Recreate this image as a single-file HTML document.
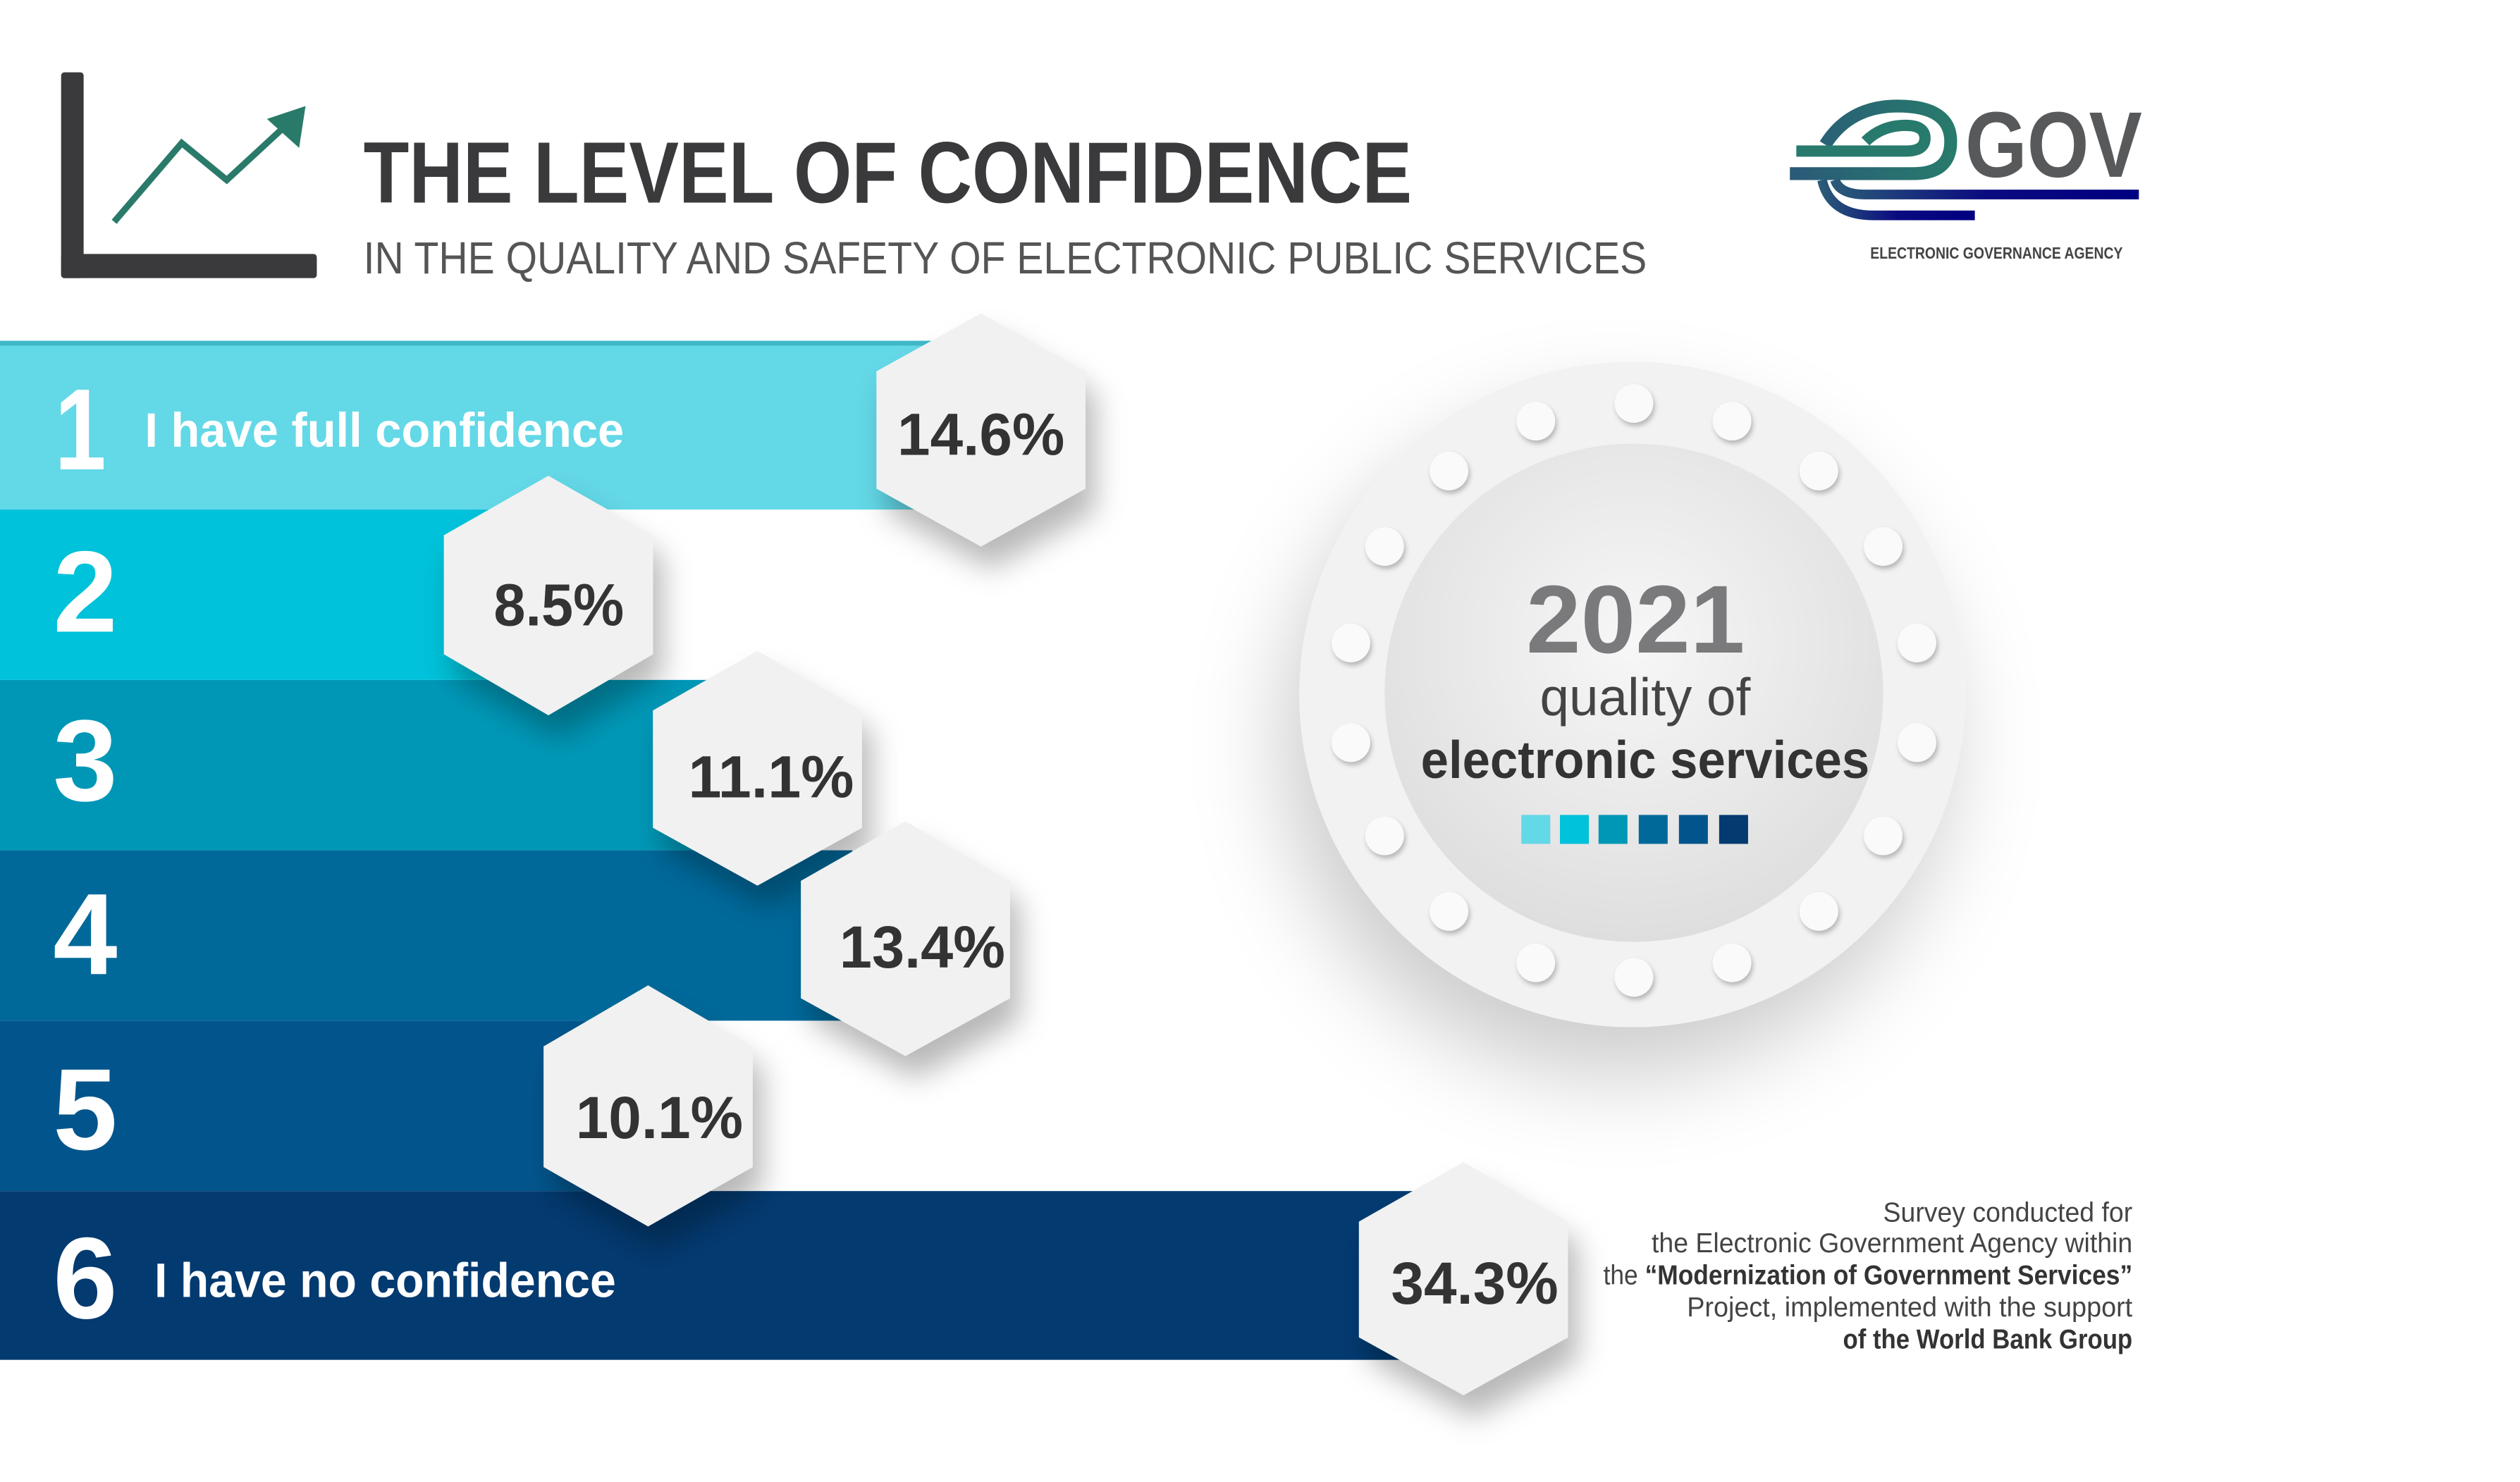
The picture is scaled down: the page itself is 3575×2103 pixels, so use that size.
<!DOCTYPE html>
<html><head><meta charset="utf-8"><style>
html,body{margin:0;padding:0;background:#fff;overflow:hidden}
svg{display:block}
text{font-family:"Liberation Sans",sans-serif}
</style></head><body>
<svg width="3575" height="2103" viewBox="0 0 1567 922" preserveAspectRatio="none" xmlns="http://www.w3.org/2000/svg">
<defs>
<filter id="sh" x="-50%" y="-50%" width="200%" height="220%"><feDropShadow dx="6" dy="14" stdDeviation="9" flood-color="#000" flood-opacity="0.28"/></filter>
<filter id="csh" x="-50%" y="-50%" width="200%" height="200%"><feDropShadow dx="-10" dy="30" stdDeviation="28" flood-color="#000" flood-opacity="0.2"/></filter>
<filter id="dsh"><feDropShadow dx="1" dy="2" stdDeviation="1.5" flood-color="#000" flood-opacity="0.25"/></filter>
<radialGradient id="inner" cx="0.5" cy="0.4" r="0.6"><stop offset="0" stop-color="#f7f7f7"/><stop offset="1" stop-color="#dedede"/></radialGradient>
<linearGradient id="eg" x1="0" y1="0" x2="1" y2="0"><stop offset="0" stop-color="#2a5a78"/><stop offset="1" stop-color="#287a6c"/></linearGradient>
<linearGradient id="bg" x1="0" y1="0" x2="1" y2="0"><stop offset="0" stop-color="#2a5a78"/><stop offset="0.5" stop-color="#0a0a80"/><stop offset="1" stop-color="#000080"/></linearGradient>
</defs>
<!-- chart icon -->
<rect x="38" y="45" width="14" height="128" rx="2" fill="#3a3a3c"/>
<rect x="38" y="158" width="159" height="15" rx="2" fill="#3a3a3c"/>
<polyline points="71,138 113,89 141,112 180,76" fill="none" stroke="#2a7a6a" stroke-width="4"/>
<polygon points="190,66 166,74 186,92" fill="#2a7a6a"/>
<text x="226" y="126" font-size="54" font-weight="bold" fill="#3a3a3c" textLength="652" lengthAdjust="spacingAndGlyphs">THE LEVEL OF CONFIDENCE</text>
<text x="226" y="170" font-size="28" fill="#555" textLength="798" lengthAdjust="spacingAndGlyphs">IN THE QUALITY AND SAFETY OF ELECTRONIC PUBLIC SERVICES</text>
<!-- logo -->
<path d="M1135,90 Q1150,66 1180,66 Q1213,66 1213,88 Q1213,108 1190,108 L1113,108" fill="none" stroke="url(#eg)" stroke-width="8"/>
<path d="M1160,88 Q1170,78 1185,78 Q1197,78 1197,86 Q1197,94 1185,94 L1117,94" fill="none" stroke="#287a6c" stroke-width="7"/>
<path d="M1141,112 Q1144,121 1160,121 L1330,121" fill="none" stroke="url(#bg)" stroke-width="6"/>
<path d="M1133,112 Q1138,134 1165,134 L1228,134" fill="none" stroke="url(#bg)" stroke-width="6"/>
<text x="1222" y="110" font-size="58" font-weight="bold" fill="#58595b" textLength="110" lengthAdjust="spacingAndGlyphs">GOV</text>
<text x="1163" y="161" font-size="10" font-weight="bold" fill="#444" textLength="157" lengthAdjust="spacingAndGlyphs">ELECTRONIC GOVERNANCE AGENCY</text>
<!-- bars -->
<rect x="0" y="741" width="880" height="105" fill="#033a70"/>
<rect x="0" y="635" width="370" height="106" fill="#02558c"/>
<rect x="0" y="529" width="530" height="106" fill="#00699a"/>
<rect x="0" y="423" width="440" height="106" fill="#0097b6"/>
<rect x="0" y="317" width="310" height="106" fill="#00c2da"/>
<rect x="0" y="212" width="580" height="105" fill="#63d8e7"/>
<rect x="0" y="212" width="580" height="3" fill="#3fb8c8"/>
<g fill="#fff" font-weight="bold">
<text x="34" y="292" font-size="72" textLength="32" lengthAdjust="spacingAndGlyphs">1</text>
<text x="33" y="393" font-size="72" textLength="40" lengthAdjust="spacingAndGlyphs">2</text>
<text x="33" y="498" font-size="72" textLength="40" lengthAdjust="spacingAndGlyphs">3</text>
<text x="33" y="606" font-size="72" textLength="40" lengthAdjust="spacingAndGlyphs">4</text>
<text x="33" y="715" font-size="72" textLength="40" lengthAdjust="spacingAndGlyphs">5</text>
<text x="33" y="820" font-size="72" textLength="40" lengthAdjust="spacingAndGlyphs">6</text>
<text x="90" y="278" font-size="30" textLength="298" lengthAdjust="spacingAndGlyphs">I have full confidence</text>
<text x="96" y="807" font-size="30" textLength="287" lengthAdjust="spacingAndGlyphs">I have no confidence</text>
</g>
<!-- hexagons -->
<g fill="#f1f1f1" filter="url(#sh)">
<polygon points="610,195 675,231 675,304 610,340 545,304 545,231"/>
<polygon points="341,296 406,333 406,407 341,445 276,407 276,333"/>
<polygon points="471,405 536,442 536,515 471,551 406,515 406,442"/>
<polygon points="563,511 628,548 628,621 563,657 498,621 498,548"/>
<polygon points="403,613 468,651 468,726 403,763 338,726 338,651"/>
<polygon points="910,723 975,760 975,832 910,868 845,832 845,760"/>
</g>
<g fill="#333" font-weight="bold" font-size="37">
<text x="558" y="283" textLength="104" lengthAdjust="spacingAndGlyphs">14.6%</text>
<text x="307" y="389" textLength="81" lengthAdjust="spacingAndGlyphs">8.5%</text>
<text x="428" y="496" textLength="103" lengthAdjust="spacingAndGlyphs">11.1%</text>
<text x="522" y="602" textLength="103" lengthAdjust="spacingAndGlyphs">13.4%</text>
<text x="358" y="708" textLength="104" lengthAdjust="spacingAndGlyphs">10.1%</text>
<text x="865" y="811" textLength="104" lengthAdjust="spacingAndGlyphs">34.3%</text>
</g>
<!-- circle -->
<circle cx="1015" cy="432" r="207" fill="#f2f2f2" filter="url(#csh)"/>
<circle cx="1016" cy="431" r="155" fill="url(#inner)"/>
<g fill="#fafafa" filter="url(#dsh)">
<circle cx="1016" cy="251" r="12"/><circle cx="1077" cy="262" r="12"/><circle cx="1131" cy="293" r="12"/><circle cx="1171" cy="340" r="12"/><circle cx="1192" cy="400" r="12"/><circle cx="1192" cy="462" r="12"/><circle cx="1171" cy="520" r="12"/><circle cx="1131" cy="567" r="12"/><circle cx="1077" cy="599" r="12"/><circle cx="1016" cy="608" r="12"/><circle cx="955" cy="599" r="12"/><circle cx="901" cy="567" r="12"/><circle cx="861" cy="520" r="12"/><circle cx="840" cy="462" r="12"/><circle cx="840" cy="400" r="12"/><circle cx="861" cy="340" r="12"/><circle cx="901" cy="293" r="12"/><circle cx="955" cy="262" r="12"/>
</g>
<text x="1017" y="406" font-size="60" font-weight="bold" fill="#7a7a7c" text-anchor="middle" textLength="136" lengthAdjust="spacingAndGlyphs">2021</text>
<text x="1023" y="445" font-size="33" fill="#444" text-anchor="middle" textLength="131" lengthAdjust="spacingAndGlyphs">quality of</text>
<text x="1023" y="484" font-size="33" font-weight="bold" fill="#333" text-anchor="middle" textLength="279" lengthAdjust="spacingAndGlyphs">electronic services</text>
<rect x="946" y="507" width="18" height="18" fill="#63d8e7"/>
<rect x="970" y="507" width="18" height="18" fill="#00c2da"/>
<rect x="994" y="507" width="18" height="18" fill="#0097b6"/>
<rect x="1019" y="507" width="18" height="18" fill="#00699a"/>
<rect x="1044" y="507" width="18" height="18" fill="#02558c"/>
<rect x="1069" y="507" width="18" height="18" fill="#033a70"/>
<!-- survey text -->
<g font-size="17" fill="#444">
<text x="1171" y="760" textLength="155" lengthAdjust="spacingAndGlyphs">Survey conducted for</text>
<text x="1027" y="779" textLength="299" lengthAdjust="spacingAndGlyphs">the Electronic Government Agency within</text>
<text x="997" y="799" textLength="329" lengthAdjust="spacingAndGlyphs">the <tspan font-weight="bold" fill="#333">“Modernization of Government Services”</tspan></text>
<text x="1049" y="819" textLength="277" lengthAdjust="spacingAndGlyphs">Project, implemented with the support</text>
<text x="1146" y="839" font-weight="bold" fill="#333" textLength="180" lengthAdjust="spacingAndGlyphs">of the World Bank Group</text>
</g>
</svg>
</body></html>
